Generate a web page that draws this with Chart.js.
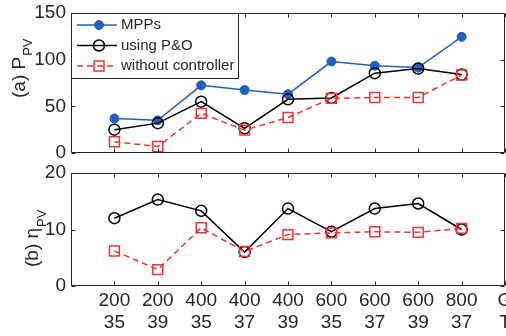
<!DOCTYPE html>
<html>
<head>
<meta charset="utf-8">
<script src="https://cdn.jsdelivr.net/npm/chart.js@4/dist/chart.umd.min.js"></script>
<style>
    html, body { margin: 0; padding: 0; background: #fff; }
    #wrap { position: relative; width: 506px; height: 336px; overflow: hidden; }
    #topBox { position: absolute; left: 0; top: 0; width: 506px; height: 160px; }
    #bottomBox { position: absolute; left: 0; top: 160px; width: 506px; height: 176px; }
</style>
</head>
<body>
<div id="wrap">
    <div id="topBox"><canvas id="powerChart"></canvas></div>
    <div id="bottomBox"><canvas id="effChart"></canvas></div>
</div>
<script>
// operating points: irradiance G and temperature T
const irradiance = [200, 200, 400, 400, 400, 600, 600, 600, 800];
const temperature = [35, 39, 35, 37, 39, 35, 37, 39, 37];
const lastTickLabel = ['G', 'T'];

// (a) PV power
const powerMpp = [37, 35, 72.5, 67.5, 63, 98, 93.5, 91.5, 124.5];
const powerPO = [25, 32, 55, 26.5, 57.5, 59, 85.5, 90.5, 84];
const powerNoCtrl = [12, 7, 42.5, 24.5, 38, 58.5, 59.5, 59.5, 83.5];

// (b) PV efficiency
const effPO = [12, 15.3, 13.3, 6, 13.7, 9.6, 13.7, 14.6, 10];
const effNoCtrl = [6.2, 2.9, 10.3, 6.1, 9.1, 9.4, 9.6, 9.5, 10.2];

const seriesNames = ['MPPs', 'using P&O', 'without controller'];
const powerRange = [0, 150, 50];
const effRange = [0, 20, 10];

const FONT = "'Liberation Sans', Arial, sans-serif";
const INK = '#262626';
const BLUE = '#2060c0';
const RED = '#f03434';

function toPoints(values) {
    return values.map((v, i) => ({ x: i + 1, y: v }));
}

const styles = {
    mpp: { borderColor: BLUE, backgroundColor: BLUE, pointStyle: 'circle', pointRadius: 4.5, borderWidth: 1.5, pointBorderWidth: 1 },
    po: { borderColor: '#000', backgroundColor: 'transparent', pointStyle: 'circle', pointRadius: 5.5, borderWidth: 1.5, pointBorderWidth: 1.5 },
    noCtrl: { borderColor: RED, backgroundColor: 'transparent', pointStyle: 'rect', pointRadius: 7, borderWidth: 1.5, pointBorderWidth: 1.5, borderDash: [6, 4] }
};

function makeDataset(label, values, style, order) {
    return Object.assign({
        label: label,
        data: toPoints(values),
        pointBackgroundColor: style.backgroundColor,
        pointBorderColor: style.borderColor,
        tension: 0,
        fill: false,
        order: order
    }, style);
}

// box with inward ticks on all four sides, like the original figure
const framePlugin = {
    id: 'frame',
    afterDatasetsDraw(chart) {
        const { ctx, chartArea: a, scales } = chart;
        const L = Math.round(a.left) + 0.5, R = Math.round(a.right) - 0.5;
        const T = Math.round(a.top) + 0.5, B = Math.round(a.bottom) - 0.5;
        ctx.save();
        ctx.strokeStyle = INK;
        ctx.lineWidth = 1;
        ctx.setLineDash([]);
        ctx.beginPath();
        ctx.rect(L, T, R - L, B - T);
        scales.x.ticks.forEach(t => {
            const px = Math.round(scales.x.getPixelForValue(t.value)) + 0.5;
            ctx.moveTo(px, B); ctx.lineTo(px, B - 4);
            ctx.moveTo(px, T); ctx.lineTo(px, T + 4);
        });
        scales.y.ticks.forEach(t => {
            const py = Math.round(scales.y.getPixelForValue(t.value)) + 0.5;
            ctx.moveTo(L, py); ctx.lineTo(L + 4, py);
            ctx.moveTo(R, py); ctx.lineTo(R - 4, py);
        });
        ctx.stroke();
        ctx.restore();
    }
};

// rotated y label with a subscript
const yTitlePlugin = {
    id: 'yTitle',
    afterDraw(chart, args, opts) {
        const ctx = chart.ctx;
        ctx.save();
        ctx.fillStyle = INK;
        ctx.translate(opts.x, opts.y);
        ctx.rotate(-Math.PI / 2);
        ctx.textAlign = 'left';
        ctx.textBaseline = 'alphabetic';
        ctx.font = `19px ${FONT}`;
        ctx.fillText(opts.main, 0, 0);
        const w = ctx.measureText(opts.main).width;
        ctx.font = `13px ${FONT}`;
        ctx.fillText(opts.sub, w + 1, opts.subShift);
        ctx.restore();
    }
};

// boxed legend in the upper left corner of the plot
const boxLegendPlugin = {
    id: 'boxLegend',
    afterDatasetsDraw(chart, args, opts) {
        if (!opts.show) return;
        const { ctx, chartArea: a } = chart;
        const left = Math.round(a.left) + 0.5, top = Math.round(a.top) + 0.5;
        ctx.save();
        ctx.fillStyle = '#fff';
        ctx.strokeStyle = INK;
        ctx.lineWidth = 1;
        ctx.fillRect(left, top, 167, 65);
        ctx.strokeRect(left, top, 167, 65);
        ctx.font = `15px ${FONT}`;
        ctx.textBaseline = 'middle';
        chart.data.datasets.forEach((ds, i) => {
            const y = a.top + 12 + i * 20.5;
            ctx.strokeStyle = ds.borderColor;
            ctx.lineWidth = ds.borderWidth;
            ctx.setLineDash(ds.borderDash || []);
            ctx.beginPath();
            ctx.moveTo(a.left + 6, y);
            ctx.lineTo(a.left + 46, y);
            ctx.stroke();
            ctx.setLineDash([]);
            ctx.fillStyle = ds.backgroundColor;
            ctx.lineWidth = ds.pointBorderWidth;
            Chart.helpers.drawPoint(ctx, {
                pointStyle: ds.pointStyle,
                radius: ds.pointRadius,
                rotation: 0,
                borderWidth: ds.pointBorderWidth
            }, a.left + 28, y);
            ctx.fillStyle = INK;
            ctx.fillText(ds.label, a.left + 50, y);
        });
        ctx.restore();
    }
};

function makeOptions(range, bottomHeight, showLabels, titleOpts, legendOn) {
    return {
        responsive: true,
        maintainAspectRatio: false,
        animation: false,
        devicePixelRatio: 1,
        layout: { autoPadding: false, padding: { top: 13, right: 1, left: 0, bottom: 0 } },
        plugins: {
            legend: { display: false },
            tooltip: { enabled: false },
            yTitle: titleOpts,
            boxLegend: { show: legendOn }
        },
        scales: {
            x: {
                type: 'linear',
                min: 0,
                max: irradiance.length + 1,
                grid: { display: false, drawTicks: false },
                border: { display: false },
                afterBuildTicks: s => {
                    s.ticks = s.ticks.filter(t => t.value > 0);
                },
                afterFit: s => {
                    s.height = bottomHeight;
                    s.paddingLeft = 0;
                    s.paddingRight = 0;
                },
                ticks: {
                    display: showLabels,
                    stepSize: 1,
                    autoSkip: false,
                    maxRotation: 0,
                    padding: 3,
                    color: INK,
                    font: { family: FONT, size: 19, lineHeight: 1.2 },
                    callback: v => v <= irradiance.length
                        ? [String(irradiance[v - 1]), String(temperature[v - 1])]
                        : lastTickLabel
                }
            },
            y: {
                min: range[0],
                max: range[1],
                grid: { display: false, drawTicks: false },
                border: { display: false },
                afterFit: s => {
                    s.width = 71;
                    s.paddingTop = 0;
                    s.paddingBottom = 0;
                },
                ticks: {
                    stepSize: range[2],
                    padding: 5,
                    color: INK,
                    font: { family: FONT, size: 19 }
                }
            }
        }
    };
}

new Chart(document.getElementById('powerChart'), {
    type: 'line',
    data: {
        datasets: [
            makeDataset(seriesNames[0], powerMpp, styles.mpp, 3),
            makeDataset(seriesNames[1], powerPO, styles.po, 2),
            makeDataset(seriesNames[2], powerNoCtrl, styles.noCtrl, 1)
        ]
    },
    options: makeOptions(powerRange, 7, false,
        { main: '(a) P', sub: 'PV', x: 25, y: 98, subShift: 7 }, true),
    plugins: [framePlugin, boxLegendPlugin, yTitlePlugin]
});

new Chart(document.getElementById('effChart'), {
    type: 'line',
    data: {
        datasets: [
            makeDataset(seriesNames[1], effPO, styles.po, 2),
            makeDataset(seriesNames[2], effNoCtrl, styles.noCtrl, 1)
        ]
    },
    options: makeOptions(effRange, 50, true,
        { main: '(b) \u03b7', sub: 'PV', x: 38, y: 107, subShift: 8 }, false),
    plugins: [framePlugin, boxLegendPlugin, yTitlePlugin]
});
</script>
</body>
</html>
